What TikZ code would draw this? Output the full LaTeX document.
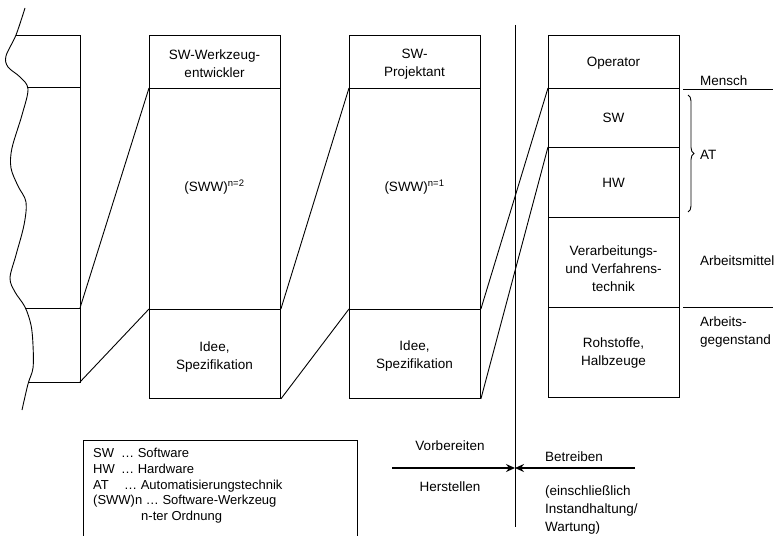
\documentclass[tikz,border=0pt]{standalone}
\usepackage{fontspec}
\setmainfont{Liberation Sans}
\usetikzlibrary{arrows.meta,decorations.pathreplacing}
\tikzset{
  cell/.style={draw, line width=0.9pt, anchor=north west, minimum width=131pt, inner sep=0pt},
  thinln/.style={line width=0.9pt},
  txt/.style={inner sep=0pt, align=center, font=\fontsize{13.5}{18}\selectfont},
  ltxt/.style={inner sep=0pt, anchor=base west, font=\fontsize{13}{16}\selectfont},
  bigarrow/.style={line width=2pt, -{Stealth[length=9pt,width=8pt,inset=3pt]}}
}
\begin{document}
\begin{tikzpicture}[x=1pt,y=-1pt]
\useasboundingbox (0,0) rectangle (775,535);
% left partial column
\draw[thinln] plot[smooth, tension=0.55] coordinates {(25,8) (16,35) (6,56) (8,67) (20,77) (28,89) (22,115) (12,148) (11,168) (18,186) (26,202) (24,225) (16,255) (10,278) (15,292) (25,307) (31,325) (33,345) (33,368) (28,384) (22,410)};
\coordinate (L0) at (80,35);
\coordinate (L1) at (80,308);
\coordinate (L2) at (80,382);
\draw[thinln] (16,35) -- (L0) -- (L2) -- (28,382);
\draw[thinln] (28,87) -- (80,87);
\draw[thinln] (25,308) -- (L1);
% box 2
\node[cell, minimum height=53pt] (b2a) at (149,35) {};
\node[cell, minimum height=221pt] (b2b) at (149,88) {};
\node[cell, minimum height=89pt] (b2c) at (149,309) {};
% box 3
\node[cell, minimum height=53pt] (b3a) at (349,35) {};
\node[cell, minimum height=221pt] (b3b) at (349,88) {};
\node[cell, minimum height=89pt] (b3c) at (349,309) {};
% box 4
\node[cell, minimum height=53pt] (b4a) at (548,35) {};
\node[cell, minimum height=59pt] (b4b) at (548,88) {};
\node[cell, minimum height=70pt] (b4c) at (548,147) {};
\node[cell, minimum height=90pt] (b4d) at (548,217) {};
\node[cell, minimum height=90pt] (b4e) at (548,307) {};
% texts
\node[txt] (t2a) at (214.5,64) {SW-Werkzeug-\\entwickler};
\node[txt] (t2b) at (214.5,187) {(SWW)\textsuperscript{n=2}};
\node[txt] (t2c) at (214.5,357) {Idee,\\Spezifikation};
\node[txt] (t3a) at (414.5,64) {SW-\\Projektant};
\node[txt] (t3b) at (414.5,187) {(SWW)\textsuperscript{n=1}};
\node[txt] (t3c) at (414.5,356) {Idee,\\Spezifikation};
\node[txt] (t4a) at (613.5,63) {Operator};
\node[txt] (t4b) at (613.5,118) {SW};
\node[txt] (t4c) at (613.5,183) {HW};
\node[txt] (t4d) at (613.5,269) {Verarbeitungs-\\und Verfahrens-\\technik};
\node[txt] (t4e) at (613.5,353) {Rohstoffe,\\Halbzeuge};
% connectors
\draw[thinln] (L1) -- (b2b.north west);
\draw[thinln] (L2) -- (b2c.north west);
\draw[thinln] (b2c.north east) -- (b3b.north west);
\draw[thinln] (b2c.south east) -- (b3c.north west);
\draw[thinln] (b3c.north east) -- (b4b.north west);
\draw[thinln] (b3c.south east) -- (b4c.north west);
% divider
\coordinate (D0) at (515,25);
\coordinate (D1) at (515,527);
\draw[thinln] (D0) -- (D1);
\coordinate (M) at (515,468);
\coordinate (A1) at (392,468);
\coordinate (A2) at (635,468);
\draw[bigarrow] (A1) -- (M);
\draw[bigarrow] (A2) -- (M);
\node[txt] (vb) at (450,446) {Vorbereiten};
\node[txt] (hs) at (450,487) {Herstellen};
\node[txt, anchor=west] (bt) at (545,457) {Betreiben};
\node[txt, anchor=west, align=left] (ein) at (545,510) {(einschließlich\\Instandhaltung/\\Wartung)};
% right labels
\coordinate (R1a) at (683,89); \coordinate (R1b) at (773,89);
\coordinate (R2a) at (683,307); \coordinate (R2b) at (773,307);
\draw[thinln] (R1a) -- (R1b);
\draw[thinln] (R2a) -- (R2b);
\node[txt, anchor=base west] (mensch) at (700,85) {Mensch};
\coordinate (B0) at (688,95); \coordinate (B1) at (688,212);
\draw[thinln, decorate, decoration={brace, amplitude=6pt}] (B0) -- (B1);
\node[txt, anchor=west] (at) at (700,155) {AT};
\node[txt, anchor=base west] (am) at (700,265) {Arbeitsmittel};
\node[txt, anchor=west, align=left] (ag) at (700,332) {Arbeits-\\gegenstand};
% legend
\draw[thinln] (83,540) -- (83,440) -- (357,440) -- (357,540);
\node[ltxt] (l1) at (93,457) {SW};
\node[ltxt] (l1b) at (121,457) {… Software};
\node[ltxt] (l2) at (93,473) {HW};
\node[ltxt] (l2b) at (121,473) {… Hardware};
\node[ltxt] (l3) at (93,489) {AT};
\node[ltxt] (l3b) at (124,489) {… Automatisierungstechnik};
\node[ltxt] (l4) at (93,504) {(SWW)n … Software-Werkzeug};
\node[ltxt] (l5) at (141,520) {n-ter Ordnung};
\end{tikzpicture}
\end{document}
